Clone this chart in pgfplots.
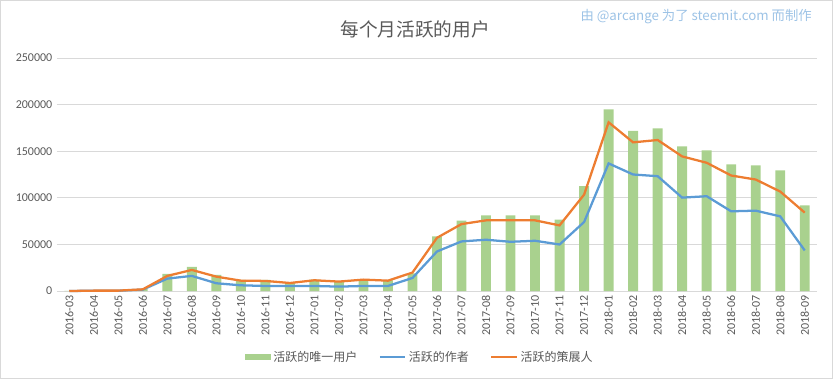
\documentclass[border=0pt]{standalone}
\usepackage{pgfplots}
\pgfplotsset{compat=1.18}
\usepackage{pgfplotstable}
\usepackage{fontspec}
\setmainfont{Carlito}
\newfontfamily\cjk{Noto Sans CJK SC}
\definecolor{barg}{HTML}{A9D18E}
\definecolor{lblue}{HTML}{5B9BD5}
\definecolor{lorange}{HTML}{ED7D31}
\definecolor{gridc}{HTML}{D9D9D9}
\definecolor{txt}{HTML}{595959}
\definecolor{note}{HTML}{9DC3E6}
\pgfplotstableread{
x users authors curators
0 100 0 0
1 500 300 400
2 700 300 400
3 2000 1500 1800
4 18300 13300 16200
5 25900 16200 22600
6 17200 8300 15400
7 11900 6100 11100
8 11900 5400 10800
9 9300 5400 8600
10 12200 5400 11500
11 10400 4700 10100
12 12600 5400 12200
13 11500 5400 11100
14 19000 14000 19800
15 58500 42400 57100
16 75400 53200 71800
17 81200 55000 75800
18 81200 52800 75800
19 81200 53900 75800
20 76500 49900 70400
21 112400 74000 103400
22 195000 136900 181000
23 171700 125000 159500
24 174600 123200 162000
25 155200 100200 144400
26 150900 101700 137600
27 135800 85500 123900
28 134700 86200 119600
29 129300 80100 106700
30 92000 43500 84100
}\datatable
\begin{document}
\begin{tikzpicture}
\useasboundingbox (0pt,0pt) rectangle (624.75pt,284.25pt);
\draw[gridc, line width=0.75pt] (0.375pt,0.375pt) rectangle (624.375pt,283.875pt);
\node[font=\cjk\fontsize{14}{16}\selectfont, text=txt] at (311.25pt,262.5pt) {每个月活跃的用户};
\node[font=\cjk\fontsize{10}{12}\selectfont, text=note, anchor=east, inner sep=0pt] at (609pt,271.5pt) {由 @arcange 为了 steemit.com 而制作};
\begin{axis}[
  at={(42.75pt,66pt)}, anchor=south west,
  scale only axis, width=570pt, height=174.75pt,
  xmin=-0.5, xmax=30.5, ymin=0, ymax=250000,
  ytick={0,50000,100000,150000,200000,250000},
  scaled y ticks=false,
  /pgf/number format/.cd, fixed, set thousands separator={}, assume math mode=true, /pgfplots/.cd,
  xtick={0,...,30},
  xticklabels={2016-03,2016-04,2016-05,2016-06,2016-07,2016-08,2016-09,2016-10,2016-11,2016-12,2017-01,2017-02,2017-03,2017-04,2017-05,2017-06,2017-07,2017-08,2017-09,2017-10,2017-11,2017-12,2018-01,2018-02,2018-03,2018-04,2018-05,2018-06,2018-07,2018-08,2018-09},
  xticklabel style={rotate=90, anchor=east, font=\fontsize{9}{10}\selectfont, text=txt},
  yticklabel style={font=\fontsize{9}{10}\selectfont, text=txt},
  major tick length=0pt,
  axis line style={draw=none},
  ymajorgrids, grid style={gridc, line width=0.75pt},
  axis x line*=bottom, axis y line*=left,
  clip=false,
  legend style={at={(0.478,-0.283)}, anchor=center, draw=none, legend columns=3,
    font=\cjk\fontsize{9}{10}\selectfont, text=txt,
    /tikz/every even column/.append style={column sep=14pt}},
  legend cell align=left,
]
\draw[gridc, line width=0.75pt] (axis cs:-0.5,0) -- (axis cs:30.5,0);
\addplot[ybar, bar width=7.4pt, fill=barg, draw=none,
  legend image code/.code={\fill[barg] (0pt,-2.5pt) rectangle (19pt,2.5pt);}]
  table[x=x,y=users]{\datatable};
\addlegendentry{活跃的唯一用户}
\addplot[lblue, line width=1.7pt, mark=none,
  legend image code/.code={\draw[lblue, line width=1.7pt] (0pt,0pt) -- (19pt,0pt);}]
  table[x=x,y=authors]{\datatable};
\addlegendentry{活跃的作者}
\addplot[lorange, line width=1.7pt, mark=none,
  legend image code/.code={\draw[lorange, line width=1.7pt] (0pt,0pt) -- (19pt,0pt);}]
  table[x=x,y=curators]{\datatable};
\addlegendentry{活跃的策展人}
\end{axis}
\end{tikzpicture}
\end{document}
